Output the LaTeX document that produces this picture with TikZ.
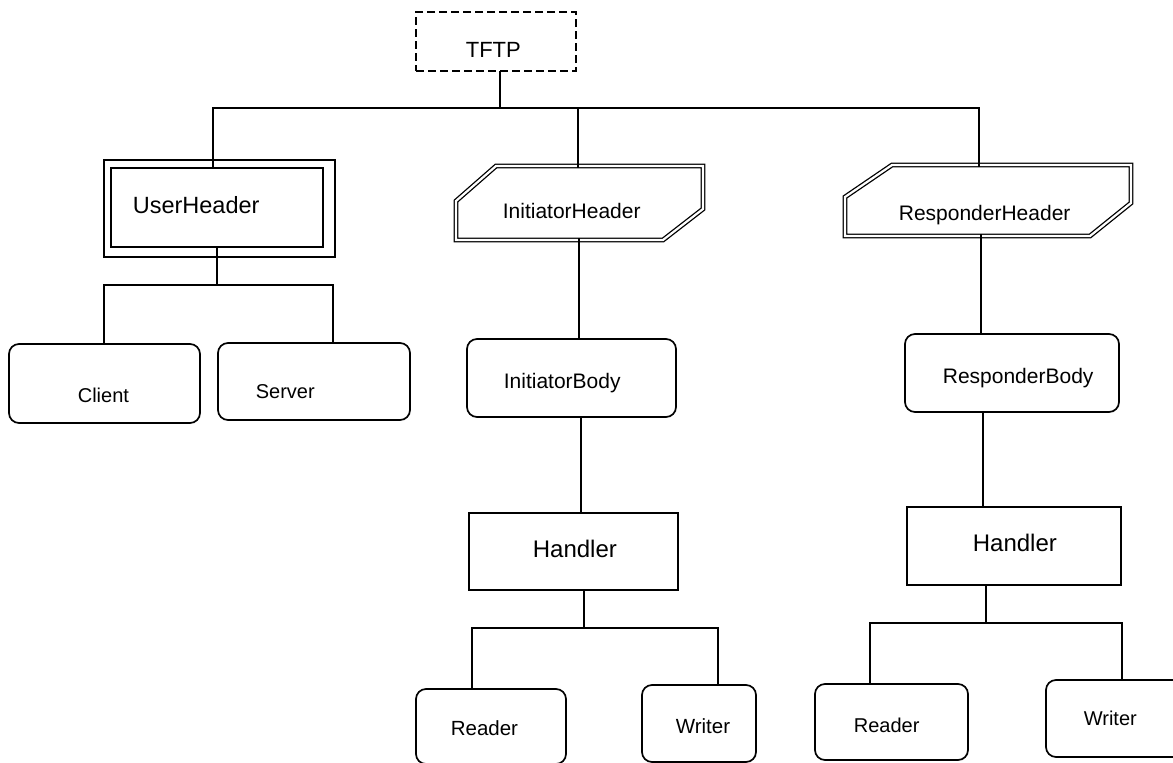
\documentclass[tikz,border=0pt]{standalone}
\usepackage{fontspec}
\setmainfont{Liberation Sans}
\begin{document}
\begin{tikzpicture}[x=1pt,y=-1pt,
  line width=1.7pt, line join=miter,
  frame/.style={draw=none, inner sep=0pt, outer sep=0pt, minimum width=#1},
  sq/.style={draw, inner sep=0pt, outer sep=0pt},
  rnd/.style={draw, rounded corners=10pt, inner sep=0pt, outer sep=0pt},
  dashbox/.style={draw, dash pattern=on 8pt off 4pt, inner sep=0pt, outer sep=0pt},
  dbl/.style={double, double distance=2.2pt, line width=1.3pt},
  lbl/.style={anchor=base west, inner sep=0pt, font=\fontsize{#1}{#1}\selectfont},
  wire/.style={line width=1.7pt}
]
\clip (0,0) rectangle (1173,763);
\fill[white] (0,0) rectangle (1173,763);

% ---- boxes ----
\node[dashbox, minimum width=160pt, minimum height=59pt] (tftp) at (496,41.5) {};
\node[sq, minimum width=231pt, minimum height=97pt] (uh) at (219.5,208.5) {};
\node[sq, minimum width=212pt, minimum height=79pt] (uhin) at (217,207.5) {};
\node[frame=247pt, minimum height=74pt] (ih) at (579.5,203) {};
\node[frame=286pt, minimum height=71pt] (rh) at (988,200.5) {};

\draw[dbl] ([shift={(40,0)}]ih.north west) -- (ih.north east)
  -- ([shift={(0,43)}]ih.north east) -- ([shift={(-40,0)}]ih.south east)
  -- (ih.south west) -- ([shift={(0,-39)}]ih.south west) -- cycle;
\draw[dbl] ([shift={(47,0)}]rh.north west) -- (rh.north east)
  -- ([shift={(0,38)}]rh.north east) -- ([shift={(-41,0)}]rh.south east)
  -- (rh.south west) -- ([shift={(0,-39)}]rh.south west) -- cycle;

\node[rnd, minimum width=191pt, minimum height=79pt] (client) at (104.5,383.5) {};
\node[rnd, minimum width=192pt, minimum height=77pt] (server) at (314,381.5) {};
\node[rnd, minimum width=209pt, minimum height=78pt] (ib) at (571.5,378) {};
\node[sq,  minimum width=209pt, minimum height=77pt] (hl) at (573.5,551.5) {};
\node[rnd, minimum width=150pt, minimum height=75pt] (rdl) at (491,726.5) {};
\node[rnd, minimum width=114pt, minimum height=77pt] (wrl) at (699,723.5) {};
\node[rnd, minimum width=214pt, minimum height=78pt] (rb) at (1012,373) {};
\node[sq,  minimum width=214pt, minimum height=78pt] (hr) at (1014,546) {};
\node[rnd, minimum width=153pt, minimum height=76pt] (rdr) at (891.5,722) {};
\node[rnd, minimum width=144pt, minimum height=77pt] (wrr) at (1118,718.5) {};

% ---- labels ----
\node[lbl=22] (ttftp) at (465,57) {TFTP};
\node[lbl=23.5] (tuh) at (132,213) {UserHeader};
\node[lbl=21] (tih) at (502,218) {InitiatorHeader};
\node[lbl=21] (trh) at (898,220) {ResponderHeader};
\node[lbl=20] (tcl) at (77,402) {Client};
\node[lbl=20] (tsv) at (255,398) {Server};
\node[lbl=21] (tib) at (503,388) {InitiatorBody};
\node[lbl=24] (thl) at (532,557) {Handler};
\node[lbl=21] (trb) at (942,383) {ResponderBody};
\node[lbl=24] (thr) at (972,551) {Handler};
\node[lbl=20.5] (trdl) at (450,735) {Reader};
\node[lbl=20.5] (twrl) at (675,733) {Writer};
\node[lbl=20] (trdr) at (853,732) {Reader};
\node[lbl=20] (twrr) at (1083,725) {Writer};

% ---- junction points ----
\coordinate (t0) at (500,108);
\coordinate (bl) at (213,108);
\coordinate (bm) at (578,108);
\coordinate (br) at (979,108);
\coordinate (ub) at (217,285);
\coordinate (cl) at (104,285);
\coordinate (sv) at (333,285);
\coordinate (xi1) at (579,0);
\coordinate (xi2) at (581,0);
\coordinate (ib0) at (584,628);
\coordinate (ibl) at (472,628);
\coordinate (ibr) at (718,628);
\coordinate (xr1) at (981,0);
\coordinate (xr2) at (983,0);
\coordinate (rb0) at (986,623);
\coordinate (rbl) at (870,623);
\coordinate (rbr) at (1122,623);

% ---- connectors ----
\draw[wire] (tftp.south -| t0) -- (t0);
\draw[wire] (bl |- uhin.north) -- (bl) -- (br) -- ([yshift=-2pt]br |- rh.north);
\draw[wire] (bm) -- ([yshift=-2pt]bm |- ih.north);

\draw[wire] (ub |- uhin.south) -- (ub);
\draw[wire] (cl |- client.north) -- (cl) -- (sv) -- (sv |- server.north);

\draw[wire] ([yshift=2pt]xi1 |- ih.south) -- (xi1 |- ib.north);
\draw[wire] (xi2 |- ib.south) -- (xi2 |- hl.north);
\draw[wire] (ib0 |- hl.south) -- (ib0);
\draw[wire] (ibl |- rdl.north) -- (ibl) -- (ibr) -- (ibr |- wrl.north);

\draw[wire] ([yshift=2pt]xr1 |- rh.south) -- (xr1 |- rb.north);
\draw[wire] (xr2 |- rb.south) -- (xr2 |- hr.north);
\draw[wire] (rb0 |- hr.south) -- (rb0);
\draw[wire] (rbl |- rdr.north) -- (rbl) -- (rbr) -- (rbr |- wrr.north);
\end{tikzpicture}
\end{document}
